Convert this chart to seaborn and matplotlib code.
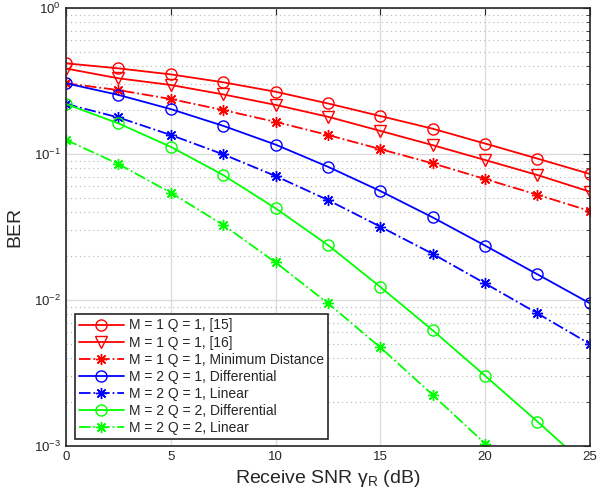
import matplotlib
matplotlib.use("Agg")
import matplotlib.pyplot as plt
import matplotlib.ticker as mticker
import numpy as np
import pandas as pd
import seaborn as sns

snr = [0, 2.5, 5, 7.5, 10, 12.5, 15, 17.5, 20, 22.5, 25]

ber_ref15 = [0.418, 0.386, 0.351, 0.310, 0.267, 0.222, 0.182, 0.149, 0.118, 0.093, 0.073]
ber_ref16 = [0.385, 0.330, 0.297, 0.256, 0.217, 0.180, 0.144, 0.115, 0.091, 0.0718, 0.0552]
ber_m1_md = [0.305, 0.274, 0.238, 0.200, 0.166, 0.135, 0.108, 0.0863, 0.0674, 0.0526, 0.0407]
ber_m2q1_diff = [0.305, 0.254, 0.203, 0.156, 0.116, 0.0818, 0.0558, 0.0368, 0.0236, 0.0150, 0.0095]
ber_m2q1_lin = [0.220, 0.178, 0.135, 0.0995, 0.0707, 0.0484, 0.0318, 0.0207, 0.0130, 0.0081, 0.0050]
ber_m2q2_diff = [0.220, 0.162, 0.112, 0.0718, 0.0425, 0.0238, 0.0123, 0.0062, 0.00303, 0.00147, 0.0007]
ber_m2q2_lin = [0.125, 0.0854, 0.0543, 0.0327, 0.0181, 0.0095, 0.00474, 0.00224, 0.00104, 0.00045, 0.00018]

labels = [
    "M = 1 Q = 1, [15]",
    "M = 1 Q = 1, [16]",
    "M = 1 Q = 1, Minimum Distance",
    "M = 2 Q = 1, Differential",
    "M = 2 Q = 1, Linear",
    "M = 2 Q = 2, Differential",
    "M = 2 Q = 2, Linear",
]
series = [ber_ref15, ber_ref16, ber_m1_md, ber_m2q1_diff, ber_m2q1_lin, ber_m2q2_diff, ber_m2q2_lin]
colors = ["#ff0000", "#ff0000", "#ff0000", "#0000ff", "#0000ff", "#00ff00", "#00ff00"]
markers = ["o", "v", (8, 2, 0), "o", (8, 2, 0), "o", (8, 2, 0)]
styles = ["-", "-", "-.", "-", "-.", "-", "-."]

sns.set_style("white")
plt.rcParams["font.family"] = ["Liberation Sans", "DejaVu Sans"]
plt.rcParams["mathtext.fontset"] = "custom"
plt.rcParams["mathtext.rm"] = "Liberation Sans"
plt.rcParams["mathtext.it"] = "Liberation Sans"

fig = plt.figure(figsize=(6.0, 4.97), dpi=100)
ax = fig.add_axes([0.11, 0.1026, 0.873, 0.8813])

for y, lab, c, m, ls in zip(series, labels, colors, markers, styles):
    df = pd.DataFrame({"snr": snr, "ber": y})
    sns.lineplot(data=df, x="snr", y="ber", ax=ax, color=c, marker=m, linestyle=ls,
                 linewidth=1.3, markersize=8, markerfacecolor="none",
                 markeredgecolor=c, markeredgewidth=1.0, label=lab)

ax.set_yscale("log")
ax.set_xlim(0, 25)
ax.set_ylim(1e-3, 1)
ax.set_xticks([0, 5, 10, 15, 20, 25])
ax.yaxis.set_minor_locator(mticker.LogLocator(base=10, subs=np.arange(2, 10)))
ax.yaxis.set_minor_formatter(mticker.NullFormatter())

ax.grid(True, which="major", color="#dcdcdc", linewidth=1.0, linestyle="-")
ax.grid(True, which="minor", axis="y", color="#b5b5b5", linewidth=0.8, linestyle=(0, (1, 3)))
ax.set_axisbelow(True)

ax.tick_params(which="both", direction="in", top=True, right=True, colors="#262626",
               labelsize=9.5, labelcolor="#262626")
ax.tick_params(which="major", length=5)
ax.tick_params(which="minor", length=3)
for s in ax.spines.values():
    s.set_color("#262626")
    s.set_linewidth(1.2)

ax.set_xlabel(r"Receive SNR $\gamma_R$ (dB)", fontsize=14, color="#262626", labelpad=4)
ax.set_ylabel("BER", fontsize=14, color="#262626", labelpad=8)

leg = ax.legend(loc="lower left", bbox_to_anchor=(0.017, 0.016), fontsize=10,
                frameon=True, fancybox=False, edgecolor="#262626", framealpha=1,
                handlelength=3.2, labelspacing=0.22, borderpad=0.3, handletextpad=0.4,
                borderaxespad=0)
leg.get_frame().set_linewidth(1.2)

fig.savefig("out.png", dpi=100)
